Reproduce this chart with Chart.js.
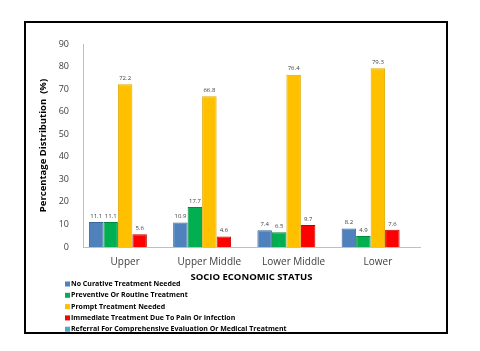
<!DOCTYPE html>
<html>
<head>
<meta charset="utf-8">
<script src="https://cdn.jsdelivr.net/npm/chart.js@4"></script>
<style>
  body { margin: 0; background: #fff; }
  #frame { position: absolute; left: 24px; top: 21px; width: 420px; height: 309px; border: 2px solid #000; }
  canvas { display: block; }
</style>
</head>
<body>
<div id="frame"><canvas id="c" width="420" height="309"></canvas></div>
<script>
// DATA
const categories = ["Upper", "Upper Middle", "Lower Middle", "Lower"];
const noCurative = [11.1, 10.9, 7.4, 8.2];
const preventive = [11.1, 17.7, 6.5, 4.9];
const prompt = [72.2, 66.8, 76.4, 79.3];
const immediate = [5.6, 4.6, 9.7, 7.6];
const referral = [null, null, null, null];
const seriesNames = [
  "No Curative Treatment Needed",
  "Preventive Or Routine Treatment",
  "Prompt Treatment Needed",
  "Immediate Treatment Due To Pain Or Infection",
  "Referral For Comprehensive Evaluation Or Medical Treatment"
];
const seriesColors = ["#4f81bd", "#00b050", "#ffc000", "#ff0000", "#4bacc6"];
const borderColors = ["#3a6699", "#008a3e", "#e0a800", "#c00000", "#31859c"];

const font = "'Open Sans', 'Noto Sans', sans-serif";

// data labels above each bar
const valueLabels = {
  id: 'valueLabels',
  afterDatasetsDraw(chart) {
    const ctx = chart.ctx;
    ctx.save();
    ctx.font = "6px " + font;
    ctx.fillStyle = "#404040";
    ctx.textAlign = "center";
    ctx.textBaseline = "bottom";
    chart.data.datasets.forEach((ds, i) => {
      chart.getDatasetMeta(i).data.forEach((bar, j) => {
        if (ds.data[j] == null) return;
        ctx.fillText(ds.data[j].toFixed(1), bar.x, bar.y - 3);
      });
    });
    ctx.restore();
  }
};

// vertical legend under the x axis title
const stackedLegend = {
  id: 'stackedLegend',
  afterDraw(chart) {
    const ctx = chart.ctx;
    ctx.save();
    ctx.font = "bold 7px " + font;
    ctx.textBaseline = "middle";
    chart.data.datasets.forEach((ds, i) => {
      const y = 261 + i * 11.3;
      ctx.fillStyle = ds.backgroundColor;
      ctx.fillRect(39, y - 2.5, 5, 5);
      ctx.fillStyle = "#000";
      ctx.fillText(ds.label, 45, y);
    });
    ctx.restore();
  }
};

const seriesData = [noCurative, preventive, prompt, immediate, referral];

new Chart(document.getElementById('c'), {
  type: 'bar',
  data: {
    labels: categories,
    datasets: seriesData.map((d, i) => ({
      label: seriesNames[i],
      data: d,
      backgroundColor: seriesColors[i],
      borderColor: borderColors[i],
      borderWidth: 1,
      categoryPercentage: 0.86,
      barPercentage: 1
    }))
  },
  options: {
    responsive: false,
    animation: false,
    layout: { padding: { top: 21, right: 26, bottom: 45, left: 8 } },
    plugins: { legend: { display: false }, tooltip: { enabled: false } },
    scales: {
      x: {
        grid: { display: false },
        border: { display: true, color: '#bfbfbf' },
        ticks: { color: '#404040', font: { family: font, size: 10 }, padding: 1 },
        title: { display: true, text: 'SOCIO ECONOMIC STATUS', color: '#000', font: { family: font, size: 9.5, weight: 'bold' }, padding: { top: 2 } },
        afterFit(s) { s.height = 40; }
      },
      y: {
        min: 0, max: 90,
        grid: { display: false },
        border: { display: true, color: '#bfbfbf' },
        ticks: { stepSize: 10, color: '#404040', font: { family: font, size: 9 }, padding: 6 },
        title: { display: true, text: 'Percentage Distribution  (%)', color: '#000', font: { family: font, size: 9.5, weight: 'bold' } },
        afterFit(s) { s.width = 49; }
      }
    }
  },
  plugins: [valueLabels, stackedLegend]
});
</script>
</body>
</html>
